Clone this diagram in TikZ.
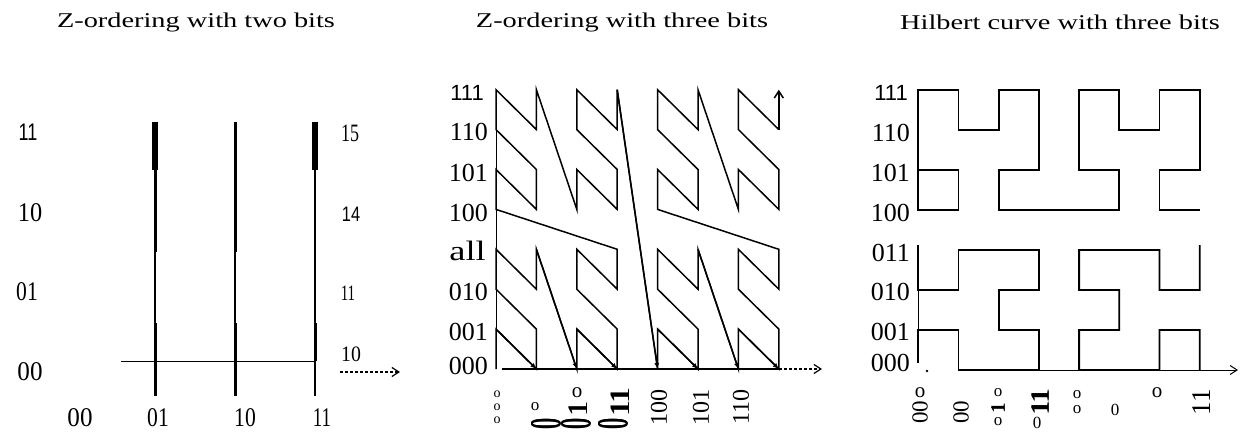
\documentclass[tikz,border=0pt]{standalone}
\usepackage{graphicx}
\usepackage{fontspec}
\setmainfont{Liberation Serif}
\setsansfont{Liberation Sans}
\usetikzlibrary{arrows.meta}
\newcommand\fs[1]{\fontsize{#1}{#1}\selectfont}
\newcommand\sx[2]{\scalebox{#1}[1]{#2}}
\newcommand\vt[1]{\rotatebox{90}{#1}}
% heavy look by overprinting, then rotated
\newcommand\hv[1]{\rlap{#1}\hspace{0.8pt}\rlap{#1}\hspace{0.8pt}#1}
\newcommand\vtb[1]{\rotatebox{90}{\hv{#1}}}
\newcommand\bigzero{\rotatebox{90}{\scalebox{1}[2.2]{\fs{20}\hv{0}}}}
\begin{document}
\begin{tikzpicture}[x=1pt,y=-1pt,
  every node/.style={inner sep=0pt},
  ttl/.style={font=\fs{21}},
  lab/.style={font=\fs{26}},
  plab/.style={font=\fs{27}},
  slab/.style={font=\sffamily\fs{22}},
  sm/.style={font=\fs{17}},
  smb/.style={font=\fs{21}},
  zline/.style={line width=1.5pt},
  hline/.style={line width=1.8pt},
  tip/.style={-{Straight Barb[length=7pt,width=9pt]}},
]
\useasboundingbox (0,0) rectangle (1241,433);

% ---------- titles ----------
\node[ttl] (t1) at (196,22) {\sx{1.35}{Z-ordering with two bits}};
\node[ttl] (t2) at (622,22) {\sx{1.35}{Z-ordering with three bits}};
\node[ttl] (t3) at (1060,22) {\sx{1.35}{Hilbert curve with three bits}};

% ---------- panel 1 ----------
\coordinate (p1a) at (155,122); \coordinate (p1b) at (155,170);
\coordinate (p1c) at (155,252); \coordinate (p1d) at (155,323);
\coordinate (p1e) at (155,396);
\draw[line width=6pt] (p1a)--(p1b);
\draw[line width=3pt] (p1b)--(p1c);
\draw[line width=2pt] (p1c)--(p1d);
\draw[line width=3pt] (p1d)--(p1e);
\coordinate (p2a) at (235,122); \coordinate (p2c) at (235,252);
\coordinate (p2d) at (235,323); \coordinate (p2e) at (235,396);
\draw[line width=3pt] (p2a)--(p2c);
\draw[line width=2pt] (p2c)--(p2d);
\draw[line width=3pt] (p2d)--(p2e);
\coordinate (p3a) at (315,122); \coordinate (p3b) at (315,170);
\coordinate (p3d) at (315,323); \coordinate (p3h) at (315,361);
\coordinate (p3e) at (315,396);
\draw[line width=6pt] (p3a)--(p3b);
\draw[line width=2pt] (p3b)--(p3d);
\draw[line width=3pt] (p3d)--(p3h);
\draw[line width=2pt] (p3h)--(p3e);
\coordinate (h1) at (121,361);
\draw[line width=1pt] (h1)--(p3h);
\coordinate (ar1) at (340,372); \coordinate (ar2) at (400,372);
\draw[line width=1.2pt,densely dashed,tip] (ar1)--(ar2);

\node[font=\sffamily\fs{24}] (y11) at (28,132) {\sx{0.75}{11}};
\node[plab] (y10) at (30,213) {\sx{0.9}{10}};
\node[plab] (y01) at (27,292) {\sx{0.8}{01}};
\node[plab] (y00) at (30,372) {\sx{0.93}{00}};
\node[plab] (x00) at (80,418) {\sx{0.93}{00}};
\node[plab] (x01) at (158,418) {\sx{0.8}{01}};
\node[plab] (x10) at (245,418) {\sx{0.8}{10}};
\node[plab] (x11) at (322,418) {\sx{0.7}{11}};
\node[font=\fs{25}] (r15) at (350,133) {\sx{0.72}{15}};
\node[font=\sffamily\fs{21}] (r14) at (351,214) {\sx{0.78}{14}};
\node[font=\fs{22}] (r11) at (348,293) {\sx{0.68}{11}};
\node[font=\fs{22}] (r10) at (351,354) {\sx{0.9}{10}};

% ---------- panel 2 : Z-order ----------
\foreach \i in {0,...,63}{
  \pgfmathtruncatemacro\cx{mod(floor(\i/2),2)+2*mod(floor(\i/8),2)+4*mod(floor(\i/32),2)}
  \pgfmathtruncatemacro\cy{mod(\i,2)+2*mod(floor(\i/4),2)+4*mod(floor(\i/16),2)}
  \coordinate (Z\i) at ({496+40.4*\cx},{369-39.9*\cy});
}
\coordinate (ZyA) at (496,363); \coordinate (ZyB) at (496,90);
\draw[line width=1pt] (ZyA)--(ZyB);
\draw[zline] (Z0) foreach \i in {1,...,62}{--(Z\i)};
\draw[zline,tip] (Z62)--(Z63);
\foreach \a/\b in {1/2,7/8,9/10,31/32,33/34,39/40,41/42}
  \draw[zline,-{Latex[length=6pt,width=5pt]}] (Z\a)--(Z\b);
\coordinate (XA) at (502,369); \coordinate (XB) at (779,369); \coordinate (XC) at (822,369);
\draw[line width=1.4pt] (XA)--(XB);
\draw[line width=1.2pt,densely dashed,tip] (XB)--(XC);

\node[slab,anchor=east] (z111) at (484,93) {111};
\node[lab,anchor=east] (z110) at (488,132) {110};
\node[lab,anchor=east] (z101) at (488,173) {101};
\node[lab,anchor=east] (z100) at (488,213) {100};
\node[font=\fs{28},anchor=east] (zall) at (486,251) {\sx{1.3}{all}};
\node[lab,anchor=east] (z010) at (488,292) {010};
\node[lab,anchor=east] (z001) at (488,332) {001};
\node[lab,anchor=east] (z000) at (488,366) {000};

\node[align=center,font=\fontsize{14}{13}\selectfont] (za) at (497,407) {o\\o\\o};
\node[sm] (zb1) at (535,407) {o};
\node (zb2) at (546,424) {\bigzero};
\node[smb] (zc1) at (577,393) {o};
\node[font=\fs{28}] (zc2) at (578,409) {\vtb{1}};
\node (zc3) at (576,424) {\bigzero};
\node[font=\fs{28}] (zd1) at (620,402) {\vtb{11}};
\node (zd2) at (613,424) {\bigzero};
\node[font=\fs{24}] (ze) at (659,407) {\vt{100}};
\node[font=\fs{24}] (zf) at (701,407) {\vt{101}};
\node[font=\fs{24}] (zg) at (741,407) {\vt{110}};

% ---------- panel 3 : Hilbert ----------
\foreach \c in {0,...,7}{
  \foreach \r in {0,...,7}{
    \coordinate (H\c\r) at ({918.3+40.2*\c},{370-40*\r});
  }
}
\draw[hline] (H05)--(H04)--(H14)--(H15)--(H05)--(H07)--(H17)--(H16)--(H26)--(H27)--(H37)--(H35)--(H25)--(H24)--(H54)--(H55)--(H45)--(H47)--(H57)--(H56)--(H66)--(H67)--(H77)--(H75)--(H65)--(H64)--(H74);
\coordinate (HL) at (918.3,245); \coordinate (HLb) at (918.3,363);
\coordinate (HR) at (1199.7,245);
\draw[hline] (HL)--(H02)--(H12)--(H13)--(H33)--(H32)--(H22)--(H21)--(H31)--(H30)--(H10)--(H11)--(H01)--(HLb);
\draw[line width=1pt] (H02)--(H01);
\draw[hline] (HR)--(H72)--(H62)--(H63)--(H43)--(H42)--(H52)--(H51)--(H41)--(H40)--(H60)--(H61)--(H71)--(H70);
\coordinate (HX) at (1238,370);
\draw[line width=1pt,tip] (H10)--(HX);
\coordinate (Hdot) at (927,371);
\fill (Hdot) circle (1.4);

\node[slab,anchor=east] (h111) at (908,93) {111};
\node[lab,anchor=east] (h110) at (910,133) {110};
\node[lab,anchor=east] (h101) at (910,173) {101};
\node[lab,anchor=east] (h100) at (910,213) {100};
\node[lab,anchor=east] (h011) at (910,253) {011};
\node[lab,anchor=east] (h010) at (910,292) {010};
\node[lab,anchor=east] (h001) at (910,332) {001};
\node[lab,anchor=east] (h000) at (910,363) {000};

\node[smb] (ha1) at (920,393) {o};
\node[font=\fs{23}] (ha2) at (920,412) {\vt{00}};
\node[font=\fs{23}] (hb) at (961,412) {\vt{00}};
\node[sm] (hc1) at (998,393) {o};
\node[font=\fs{20}] (hc2) at (998,408) {\vtb{1}};
\node[sm] (hc3) at (998,422) {o};
\node[font=\fs{26}] (hd1) at (1040,402) {\vtb{11}};
\node[font=\fs{17}] (hd2) at (1037,423) {0};
\node[sm] (he1) at (1077,395) {o};
\node[sm] (he2) at (1077,410) {o};
\node[font=\fs{17}] (hf) at (1115,410) {0};
\node[smb] (hg) at (1157,393) {o};
\node[font=\fs{27}] (hh) at (1202,402) {\vt{11}};
\end{tikzpicture}
\end{document}
